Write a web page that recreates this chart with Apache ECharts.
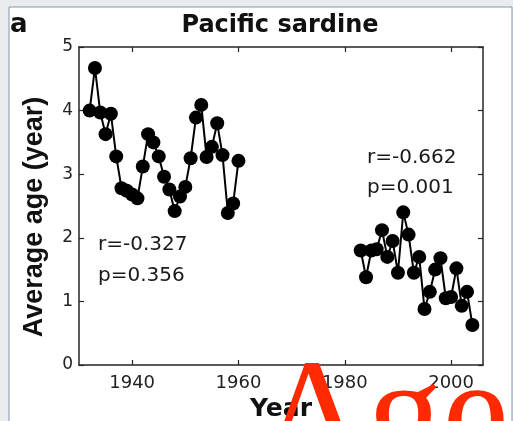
<!DOCTYPE html>
<html>
<head>
<meta charset="utf-8">
<script src="https://cdn.jsdelivr.net/npm/echarts@6/dist/echarts.min.js"></script>
<style>
  html, body { margin: 0; padding: 0; background: #e9ecef; }
  #chart { width: 513px; height: 421px; }
</style>
</head>
<body>
<div id="chart"></div>
<script>
// ---- data ----
const years1 = [1932, 1933, 1934, 1935, 1936, 1937, 1938, 1939, 1940, 1941,
                1942, 1943, 1944, 1945, 1946, 1947, 1948, 1949, 1950, 1951,
                1952, 1953, 1954, 1955, 1956, 1957, 1958, 1959, 1960];
const age1 = [4.00, 4.67, 3.97, 3.63, 3.95, 3.28, 2.78, 2.74, 2.68, 2.62,
              3.12, 3.63, 3.50, 3.28, 2.96, 2.76, 2.42, 2.65, 2.80, 3.25,
              3.89, 4.09, 3.27, 3.43, 3.80, 3.30, 2.39, 2.54, 3.21];
const years2 = [1983, 1984, 1985, 1986, 1987, 1988, 1989, 1990, 1991, 1992,
                1993, 1994, 1995, 1996, 1997, 1998, 1999, 2000, 2001, 2002,
                2003, 2004];
const age2 = [1.80, 1.38, 1.80, 1.82, 2.12, 1.70, 1.95, 1.45, 2.40, 2.05,
              1.45, 1.70, 0.88, 1.15, 1.50, 1.68, 1.05, 1.07, 1.52, 0.93,
              1.15, 0.63];
const xTickLabels = [1940, 1960, 1980, 2000];
const yTickLabels = [0, 1, 2, 3, 4, 5];
const stats1 = ['r=-0.327', 'p=0.356'];
const stats2 = ['r=-0.662', 'p=0.001'];
const titleText = 'Pacific sardine';
const panelLetter = 'a';
const xName = 'Year';
const yName = 'Average age (year)';
const overlayWord = 'Age';

const pairs = (xs, ys) => xs.map((x, i) => [x, ys[i]]);

const chart = echarts.init(document.getElementById('chart'), null, { renderer: 'canvas' });
const axisCol = '#262626';
const sans = '"DejaVu Sans", sans-serif';

const commonX = {
  type: 'value', min: 1930, max: 2006,
  splitLine: { show: false },
  axisLine: { show: true, onZero: false, lineStyle: { color: axisCol, width: 1.5 } },
  axisTick: { show: true, inside: true, length: 5, customValues: xTickLabels,
              lineStyle: { color: axisCol, width: 1.2 } }
};
const commonY = {
  type: 'value', min: 0, max: 5, interval: 1,
  splitLine: { show: false },
  axisLine: { show: true, onZero: false, lineStyle: { color: axisCol, width: 1.5 } },
  axisTick: { show: true, inside: true, length: 5, lineStyle: { color: axisCol, width: 1.2 } }
};

const option = {
  animation: false,
  backgroundColor: '#e9ecef',
  grid: { left: 79, right: 30, top: 47, bottom: 56, containLabel: false, outerBoundsMode: 'none' },
  xAxis: [
    Object.assign({}, commonX, {
      position: 'bottom',
      name: xName, nameLocation: 'middle', nameGap: 27,
      nameTextStyle: { fontFamily: sans, fontWeight: 'bold', fontSize: 25, color: '#111' },
      axisLabel: { show: true, customValues: xTickLabels, margin: 9,
                   fontFamily: sans, fontSize: 18, color: '#222',
                   formatter: v => String(v) }
    }),
    Object.assign({}, commonX, { position: 'top', axisLabel: { show: false } })
  ],
  yAxis: [
    Object.assign({}, commonY, {
      position: 'left',
      name: yName, nameLocation: 'middle', nameGap: 31, nameRotate: 90,
      nameTextStyle: { fontFamily: '"Liberation Sans", Arial, sans-serif', fontWeight: 'bold',
                       fontSize: 27, color: '#111', padding: [0, 22, 0, 0] },
      axisLabel: { show: true, margin: 6, fontFamily: sans, fontSize: 17, color: '#222',
                   formatter: v => (yTickLabels.indexOf(v) >= 0 ? String(v) : '') }
    }),
    Object.assign({}, commonY, { position: 'right', axisLabel: { show: false } })
  ],
  series: [
    {
      type: 'line', data: pairs(years1, age1), symbol: 'circle', symbolSize: 14,
      itemStyle: { color: '#000' }, lineStyle: { color: '#000', width: 2 },
      clip: false, z: 3
    },
    {
      type: 'line', data: pairs(years2, age2), symbol: 'circle', symbolSize: 14,
      itemStyle: { color: '#000' }, lineStyle: { color: '#000', width: 2 },
      clip: false, z: 3
    }
  ],
  graphic: [
    { type: 'rect', z: -10, shape: { x: 9, y: 7, width: 503, height: 420 },
      style: { fill: '#ffffff', stroke: '#8796ab', lineWidth: 1 } },
    { type: 'text', z: 5, style: { text: panelLetter, x: 10, y: 25, font: 'bold 26px "DejaVu Sans"',
      fill: '#111', textVerticalAlign: 'middle' } },
    { type: 'text', z: 5, style: { text: titleText, x: 280, y: 26, font: 'bold 24px "DejaVu Sans"',
      fill: '#111', textAlign: 'center', textVerticalAlign: 'middle' } },
    { type: 'text', z: 5, style: { text: stats1[0], x: 98, y: 245, font: '20px "DejaVu Sans"',
      fill: '#1a1a1a', textVerticalAlign: 'middle' } },
    { type: 'text', z: 5, style: { text: stats1[1], x: 98, y: 276, font: '20px "DejaVu Sans"',
      fill: '#1a1a1a', textVerticalAlign: 'middle' } },
    { type: 'text', z: 5, style: { text: stats2[0], x: 367, y: 158, font: '20px "DejaVu Sans"',
      fill: '#1a1a1a', textVerticalAlign: 'middle' } },
    { type: 'text', z: 5, style: { text: stats2[1], x: 367, y: 188, font: '20px "DejaVu Sans"',
      fill: '#1a1a1a', textVerticalAlign: 'middle' } },
    { type: 'text', z: 100, style: { text: overlayWord, x: 259, y: 423,
      font: '150px "Liberation Serif", "DejaVu Serif", serif',
      fill: '#ff2a00', textVerticalAlign: 'middle' } }
  ]
};
chart.setOption(option);
</script>
</body>
</html>
